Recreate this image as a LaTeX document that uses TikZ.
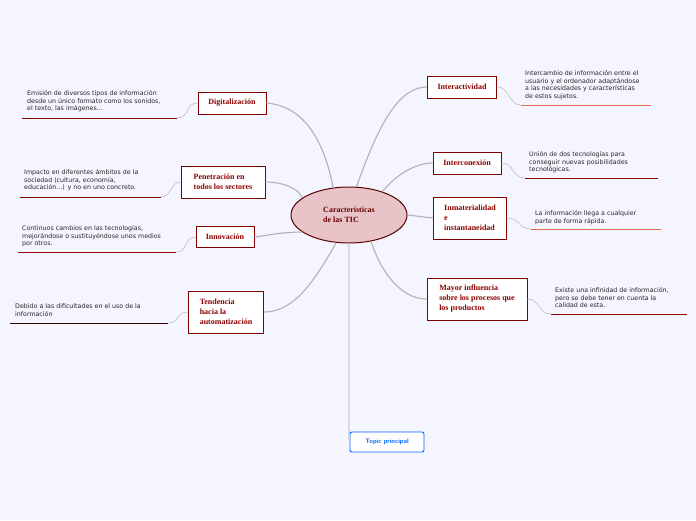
\documentclass[tikz,border=0pt]{standalone}
\usepackage{fontspec}
\setmainfont{Liberation Serif}
\newfontfamily\notefont{DejaVu Sans}
\usetikzlibrary{shapes.geometric}
\definecolor{ellfill}{HTML}{E8C4C8}
\begin{document}
\begin{tikzpicture}[x=1pt,y=-1pt,
 topic/.style={draw=red!50!black,line width=0.9pt,fill=white,font=\fontsize{8}{10}\selectfont\bfseries,text=red!55!black,align=left,inner sep=3pt},
 note/.style={font=\notefont\fontsize{6.3}{7.8}\selectfont,align=left,anchor=north west,inner sep=0pt,text=black!85},
 link/.style={draw=black!30,line width=1.1pt},
 sub/.style={draw=black!25,line width=0.6pt},
 ul/.style={line width=1pt}]
\fill[blue!4] (0,0) rectangle (696,520);
\useasboundingbox (0,0) rectangle (696,520);
\node[draw=red!35!black,line width=1pt,fill=ellfill,ellipse,minimum width=116,minimum height=56,inner sep=0pt,font=\fontsize{8}{10}\selectfont\bfseries,text=red!40!black,align=left] (c) at (349,215) {Características\\de las TIC};
\node[topic,minimum width=68,minimum height=22] (d) at (232,103) {Digitalización};
\node[topic,minimum width=84,minimum height=32] (p) at (223,182) {Penetración en\\todos los sectores};
\node[topic,minimum width=58,minimum height=21] (i) at (225,237) {Innovación};
\node[topic,minimum width=75,minimum height=42] (t) at (226,312) {Tendencia\\hacia la\\automatización};
\node[topic,minimum width=69,minimum height=22] (ia) at (462,87) {Interactividad};
\node[topic,minimum width=68,minimum height=22] (ic) at (467,163) {Interconexión};
\node[topic,minimum width=73,minimum height=42] (im) at (470,218) {Inmaterialidad\\e\\instantaneidad};
\node[topic,minimum width=100,minimum height=42] (m) at (477,299) {Mayor influencia\\sobre los procesos que\\los productos};
\node[draw=blue!60!cyan,fill=white,rounded corners=2pt,line width=0.9pt,minimum width=74,minimum height=20,font=\sffamily\fontsize{6.5}{8}\selectfont\bfseries,text=blue!60!cyan] (tp) at (387,442) {Topic principal};
% links
\draw[link] (c.120) .. controls (320,120) and (290,105) .. (d.east);
\draw[link] (c.160) .. controls (300,190) and (285,182) .. (p.east);
\draw[link] (c.200) .. controls (280,232) and (265,236) .. (i.east);
\draw[link] (c.245) .. controls (310,290) and (290,312) .. (t.east);
\draw[link] (c.75) .. controls (380,120) and (400,87) .. (ia.west);
\draw[link] (c.35) .. controls (400,170) and (420,163) .. (ic.west);
\draw[link] (c.east) -- (im.west);
\draw[link] (c.310) .. controls (380,270) and (400,299) .. (m.west);
\coordinate (tpe) at (349,440);
\draw[link,draw=black!20] (349,243) -- (tpe) -- (tp.west);
% notes
\node[note] (n1) at (27,90) {Emisión de diversos tipos de información\\desde un único formato como los sonidos,\\el texto, las imágenes...};
\coordinate (u1a) at (22,118); \coordinate (u1b) at (177,118);
\draw[ul,red!50!black] (u1a) -- (u1b);
\draw[sub] (u1b) .. controls (190,118) and (185,103) .. (d.west);
\node[note] (n2) at (24,169) {Impacto en diferentes ámbitos de la\\sociedad (cultura, economía,\\educación...) y no en uno concreto.};
\coordinate (u2a) at (20,197); \coordinate (u2b) at (161,197);
\draw[ul,red!50!black] (u2a) -- (u2b);
\draw[sub] (u2b) .. controls (172,197) and (170,182) .. (p.west);
\node[note] (n3) at (22,225) {Continuos cambios en las tecnologías,\\mejorándose o sustituyéndose unos medios\\por otros.};
\coordinate (u3a) at (18,252); \coordinate (u3b) at (176,252);
\draw[ul,red!60!black] (u3a) -- (u3b);
\draw[sub] (u3b) .. controls (188,252) and (184,237) .. (i.west);
\node[note] (n4) at (15,304) {Debido a las dificultades en el uso de la\\información};
\coordinate (u4a) at (10,323); \coordinate (u4b) at (168,323);
\draw[ul,black!80!red] (u4a) -- (u4b);
\draw[sub] (u4b) .. controls (180,323) and (176,312) .. (t.west);
\node[note] (n5) at (525,70) {Intercambio de información entre el\\usuario y el ordenador adaptándose\\a las necesidades y características\\de estos sujetos.};
\coordinate (u5a) at (521,105); \coordinate (u5b) at (651,105);
\draw[ul,red!45!brown!80] (u5a) -- (u5b);
\draw[sub] (ia.east) .. controls (510,87) and (508,105) .. (u5a);
\node[note] (n6) at (529,151) {Unión de dos tecnologías para\\conseguir nuevas posibilidades\\tecnológicas.};
\coordinate (u6a) at (525,178); \coordinate (u6b) at (658,178);
\draw[ul,red!55!black] (u6a) -- (u6b);
\draw[sub] (ic.east) .. controls (514,163) and (512,178) .. (u6a);
\node[note] (n7) at (535,210) {La información llega a cualquier\\parte de forma rápida.};
\coordinate (u7a) at (531,229); \coordinate (u7b) at (661,229);
\draw[ul,red!45!brown!80] (u7a) -- (u7b);
\draw[sub] (im.east) .. controls (520,218) and (518,229) .. (u7a);
\node[note] (n8) at (555,287) {Existe una infinidad de información,\\pero se debe tener en cuenta la\\calidad de esta.};
\coordinate (u8a) at (551,314); \coordinate (u8b) at (687,314);
\draw[ul,red!60!black] (u8a) -- (u8b);
\draw[sub] (m.east) .. controls (540,299) and (538,314) .. (u8a);
\end{tikzpicture}
\end{document}
